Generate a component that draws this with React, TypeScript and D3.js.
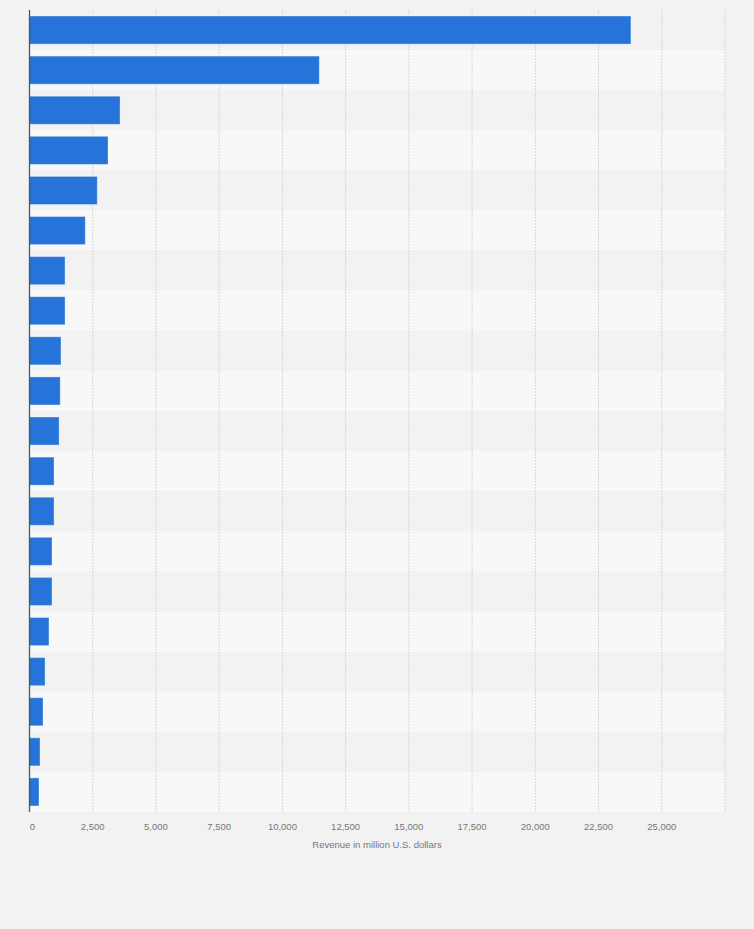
import React from "react";
import * as d3 from "d3";

const categories = [
  "Rank 1", "Rank 2", "Rank 3", "Rank 4", "Rank 5", "Rank 6", "Rank 7", "Rank 8", "Rank 9", "Rank 10",
  "Rank 11", "Rank 12", "Rank 13", "Rank 14", "Rank 15", "Rank 16", "Rank 17", "Rank 18", "Rank 19", "Rank 20",
];
const revenue = [
  23780, 11460, 3580, 3105, 2680, 2205, 1405, 1405, 1245, 1215,
  1170, 970, 970, 890, 890, 770, 615, 535, 415, 375,
];
const tickValues = [0, 2500, 5000, 7500, 10000, 12500, 15000, 17500, 20000, 22500, 25000];
const gridValues = [2500, 5000, 7500, 10000, 12500, 15000, 17500, 20000, 22500, 25000, 27500];
const axisTitle = "Revenue in million U.S. dollars";

const W = 754;
const H = 929;
const left = 29.5;
const right = 725;
const top = 10;
const bottom = 812;

export default function App() {
  const x = d3.scaleLinear().domain([0, 27500]).range([left, right]);
  const rows = d3.scaleBand<string>().domain(categories).range([top, bottom]).padding(0);
  const step = rows.step();
  const fmt = d3.format(",");
  const font = "'Liberation Sans', Arial, sans-serif";

  return (
    <svg
      width={W}
      height={H}
      style={{ position: "absolute", left: 0, top: 0, display: "block" }}
    >
      <rect x={0} y={0} width={W} height={H} fill="#f2f2f2" />
      {categories.map((c, i) => (
        <rect
          key={"row" + c}
          x={left}
          y={rows(c)}
          width={right - left}
          height={step}
          fill={i % 2 === 0 ? "#f2f2f2" : "#f8f8f8"}
        />
      ))}
      {gridValues.map((v) => (
        <line
          key={"g" + v}
          x1={x(v)}
          x2={x(v)}
          y1={top}
          y2={bottom}
          stroke="#d6d6d6"
          strokeWidth={1}
          strokeDasharray="2,1"
        />
      ))}
      {categories.map((c, i) => (
        <rect
          key={"bar" + c}
          x={x(0)}
          y={(rows(c) as number) + step * 0.15}
          width={x(revenue[i]) - x(0)}
          height={step * 0.7}
          fill="#2673d9"
          stroke="rgba(255,255,255,0.35)"
          strokeWidth={1}
        />
      ))}
      <line x1={left} x2={left} y1={top} y2={bottom} stroke="#555" strokeWidth={1.3} />
      {tickValues.map((v) => (
        <text
          key={"t" + v}
          x={v === 0 ? x(v) + 3 : x(v)}
          y={830}
          textAnchor="middle"
          fontFamily={font}
          fontSize={9.5}
          fill="#777"
        >
          {fmt(v)}
        </text>
      ))}
      <text
        x={377}
        y={848}
        textAnchor="middle"
        fontFamily={font}
        fontSize={9.5}
        fill="#777"
      >
        {axisTitle}
      </text>
    </svg>
  );
}
